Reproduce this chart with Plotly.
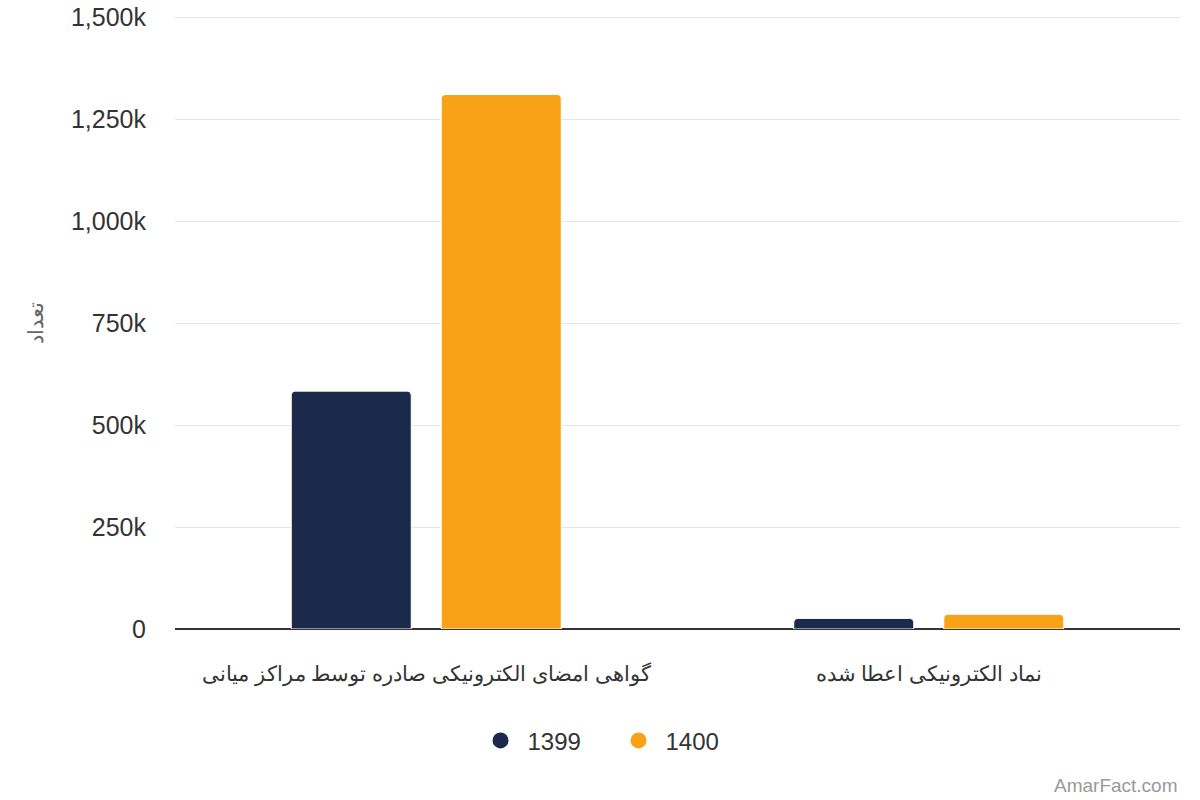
import plotly.graph_objects as go

# categories (Persian labels) and series values
categories = [
    "گواهی امضای الکترونیکی صادره توسط مراکز میانی",
    "نماد الکترونیکی اعطا شده",
]
series_names = ["1399", "1400"]
values_1399 = [583000, 26000]
values_1400 = [1310000, 36000]

tick_vals = [0, 250000, 500000, 750000, 1000000, 1250000, 1500000]
tick_text = ["0", "250k", "500k", "750k", "1,000k", "1,250k", "1,500k"]

colors = {"1399": "#1b2a4b", "1400": "#faa216"}
FONT = "Liberation Sans, Arial, sans-serif"

fig = go.Figure()

for name, vals in zip(series_names, [values_1399, values_1400]):
    fig.add_trace(go.Bar(
        x=categories,
        y=vals,
        name=name,
        marker=dict(color=colors[name], line=dict(color="white", width=1)),
        showlegend=False,
        hovertemplate="%{y:,}<extra>" + name + "</extra>",
    ))
    # legend entry drawn as a circle like the original
    fig.add_trace(go.Scatter(
        x=[None], y=[None], mode="markers", name=name,
        marker=dict(symbol="circle", size=24, color=colors[name]),
    ))

fig.update_layout(
    width=1200, height=800,
    barmode="group",
    bargap=0.403,
    bargroupgap=0.2,
    barcornerradius=4,
    plot_bgcolor="white",
    paper_bgcolor="white",
    font=dict(family=FONT, color="#333333"),
    # top margin a touch smaller so the 1,500k grid line stays inside the plot
    margin=dict(l=175, r=20, t=16, b=171, autoexpand=False),
    xaxis=dict(
        showgrid=False,
        showline=False,
        ticks="",
        automargin=False,
        ticklabelstandoff=30,
        tickfont=dict(size=21, color="#333333"),
    ),
    yaxis=dict(
        range=[0, 1502500],
        tickvals=tick_vals,
        ticktext=tick_text,
        showgrid=True,
        gridcolor="#e6e6e6",
        gridwidth=1,
        zeroline=True,
        zerolinecolor="#333333",
        zerolinewidth=2,
        ticks="",
        automargin=False,
        ticklabelstandoff=28,
        tickfont=dict(size=25, color="#333333"),
        title=dict(text="تعداد", font=dict(size=21, color="#666666"), standoff=21),
    ),
    legend=dict(
        orientation="h",
        xref="container", yref="container",
        x=0.5096, xanchor="center",
        y=0.074, yanchor="middle",
        font=dict(size=24, color="#333333"),
        itemsizing="trace",
        itemwidth=44,
        entrywidth=79,
    ),
    annotations=[dict(
        text="AmarFact.com",
        xref="paper", yref="paper",
        x=1.0, xanchor="right",
        y=-0.256, yanchor="middle",
        showarrow=False,
        font=dict(size=19, color="#999999", family=FONT),
    )],
)

fig.write_html(
    "out.html",
    config={"displayModeBar": False},
    post_script="document.body.style.margin='0';",
)
